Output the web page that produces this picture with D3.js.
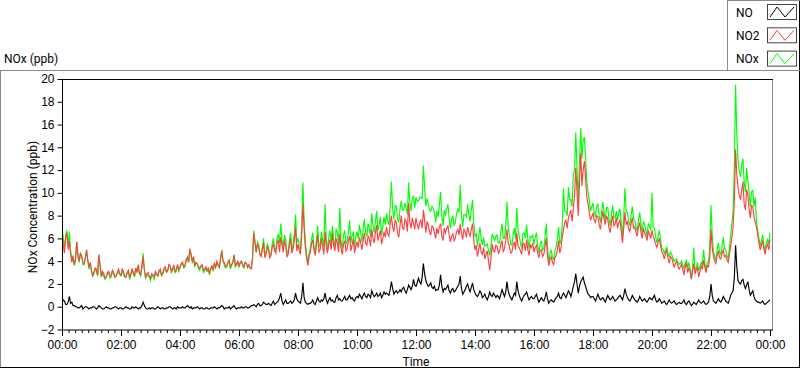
<!DOCTYPE html>
<html>
<head>
<meta charset="utf-8">
<script src="https://cdn.jsdelivr.net/npm/d3@7"></script>
<style>
  body { margin: 0; background: #fff; }
  svg { display: block; font-family: Roboto, 'Liberation Sans', sans-serif; font-size: 12px; }
</style>
</head>
<body>
<svg id="chart" width="800" height="369"></svg>
<script>
// one sample every 2.5 minutes, 00:00 -> 24:00 (one row = one hour)
const sampleMinutes = 2.5;
const seriesNames = ['NO', 'NO2', 'NOx'];
const yTicks = [-2, 0, 2, 4, 6, 8, 10, 12, 14, 16, 18, 20];

const no = [
  0.3, 0.6, 0.5, 0.2, 0.2, 0.4, 0.9, 0.3, 0.4, 0.1, 0.1, 0.0, 0.0, -0.1, -0.1, 0.0, 0.1, -0.2, -0.1, 0.0, 0.0, -0.1, -0.2, -0.1,
  -0.1, 0.0, 0.0, -0.1, -0.2, -0.1, 0.1, 0.0, -0.1, -0.2, -0.2, -0.1, 0.0, -0.1, -0.1, -0.2, -0.2, -0.1, -0.1, 0.0, 0.0, -0.1, -0.2, -0.1,
  -0.1, -0.2, -0.2, -0.1, 0.0, -0.1, -0.1, -0.2, -0.2, 0.0, -0.1, -0.1, 0.0, -0.1, -0.2, -0.1, -0.1, 0.1, 0.4, 0.1, -0.1, -0.2, -0.2, -0.1,
  -0.2, -0.1, -0.1, -0.2, -0.2, -0.1, 0.0, -0.1, -0.2, -0.1, -0.1, -0.2, -0.2, -0.1, -0.1, 0.0, 0.0, -0.1, -0.2, -0.1, -0.1, -0.2, 0.0, -0.1,
  -0.1, -0.1, 0.0, -0.1, -0.1, 0.0, 0.1, 0.0, -0.1, 0.0, -0.2, -0.1, -0.1, -0.1, 0.0, -0.1, -0.2, -0.1, -0.1, -0.2, -0.2, -0.1, -0.1, -0.2,
  -0.2, -0.1, -0.1, -0.1, 0.0, -0.1, -0.2, -0.1, -0.1, 0.0, 0.1, 0.0, -0.2, -0.1, -0.1, -0.1, 0.0, -0.2, -0.1, 0.0, 0.1, -0.1, -0.2, -0.1,
  -0.1, -0.1, 0.0, -0.1, -0.1, 0.0, 0.0, -0.1, -0.1, 0.0, 0.1, 0.1, 0.2, 0.1, 0.0, 0.2, 0.3, 0.1, 0.1, 0.2, 0.4, 0.3, 0.2, 0.2,
  0.3, 0.2, 0.1, 0.3, 0.5, 0.2, 0.3, 0.4, 0.5, 0.8, 1.2, 0.5, 0.2, 0.4, 0.6, 0.3, 0.3, 0.4, 0.5, 0.3, 0.4, 0.6, 1.2, 0.7,
  0.5, 0.4, 0.3, 0.9, 2.1, 0.8, 0.4, 0.3, 0.2, 0.3, 0.3, 0.4, 0.6, 0.3, 0.2, 0.5, 0.8, 0.5, 0.4, 0.6, 0.5, 0.7, 1.2, 0.6,
  0.3, 0.6, 0.8, 0.5, 0.6, 0.4, 0.4, 0.8, 1.0, 0.6, 0.7, 0.5, 0.5, 0.7, 0.9, 0.6, 0.6, 0.8, 1.0, 0.7, 0.8, 0.6, 0.5, 0.8,
  0.9, 0.8, 1.1, 0.9, 0.7, 1.0, 1.2, 0.9, 0.8, 1.1, 1.0, 0.8, 1.4, 1.1, 0.9, 1.0, 1.2, 0.9, 1.0, 1.2, 0.8, 1.0, 1.3, 1.1,
  1.2, 1.1, 1.0, 1.5, 2.2, 1.6, 1.1, 1.3, 1.4, 1.2, 1.3, 1.5, 1.3, 1.6, 1.7, 1.4, 1.2, 1.5, 1.9, 1.7, 1.5, 1.8, 2.4, 1.9,
  1.8, 2.1, 2.5, 2.2, 2.0, 2.6, 3.8, 2.9, 2.3, 2.0, 1.8, 1.9, 2.1, 1.7, 1.6, 1.8, 1.4, 1.5, 1.5, 1.9, 2.8, 1.8, 1.3, 1.6,
  1.5, 1.7, 1.9, 1.4, 1.2, 1.5, 1.6, 1.3, 1.4, 1.6, 1.8, 2.0, 2.7, 1.6, 1.1, 1.3, 1.5, 1.8, 2.0, 1.6, 1.3, 1.7, 2.1, 1.5,
  1.2, 1.0, 0.9, 1.1, 1.4, 1.2, 0.8, 0.9, 1.1, 0.8, 0.6, 0.9, 1.3, 1.0, 0.9, 1.2, 1.0, 0.8, 1.0, 0.9, 0.7, 1.1, 1.5, 1.2,
  0.9, 1.3, 2.2, 1.4, 1.0, 0.8, 0.6, 0.9, 1.2, 1.0, 2.2, 1.4, 1.0, 0.7, 0.5, 0.8, 1.0, 1.1, 1.3, 0.9, 0.6, 0.8, 0.9, 0.7,
  0.7, 0.9, 1.1, 0.7, 0.4, 0.6, 0.8, 0.6, 0.5, 0.8, 1.3, 0.7, 0.3, 0.5, 0.6, 0.5, 0.4, 0.6, 0.8, 0.9, 1.2, 0.8, 0.7, 1.0,
  1.2, 1.0, 0.8, 1.1, 1.4, 1.2, 0.9, 1.3, 1.8, 2.2, 2.9, 2.0, 1.2, 1.8, 2.2, 2.4, 2.6, 2.1, 1.8, 1.4, 1.1, 1.0, 0.8, 0.9,
  0.9, 0.7, 0.5, 0.8, 1.1, 0.8, 0.6, 0.7, 0.8, 0.6, 0.4, 0.7, 1.0, 0.8, 0.6, 0.7, 0.9, 0.7, 0.5, 0.6, 0.7, 0.9, 1.0, 0.8,
  0.6, 1.0, 1.6, 1.1, 0.8, 0.6, 0.5, 0.7, 1.0, 0.8, 0.6, 0.5, 0.4, 0.6, 0.9, 0.7, 0.5, 0.6, 0.7, 0.5, 0.4, 0.6, 0.8, 0.7,
  0.6, 0.8, 1.0, 0.6, 0.4, 0.5, 0.7, 0.5, 0.3, 0.4, 0.5, 0.3, 0.2, 0.4, 0.6, 0.4, 0.3, 0.4, 0.5, 0.3, 0.2, 0.3, 0.4, 0.3,
  0.3, 0.4, 0.6, 0.3, 0.2, 0.4, 0.5, 0.3, 0.1, 0.2, 0.4, 0.3, 0.2, 0.4, 0.6, 0.4, 0.3, 0.4, 0.5, 0.3, 0.2, 0.3, 0.4, 0.9,
  2.0, 1.0, 0.5, 0.4, 0.3, 0.5, 0.7, 0.5, 0.4, 0.6, 0.9, 0.7, 0.5, 0.4, 0.3, 0.6, 1.0, 1.2, 1.4, 2.6, 5.4, 3.5, 2.3, 2.1,
  2.0, 2.3, 2.4, 1.9, 1.6, 1.9, 2.2, 1.5, 1.0, 1.2, 1.4, 0.9, 0.6, 0.5, 0.4, 0.4, 0.3, 0.4, 0.5, 0.3, 0.2, 0.3, 0.4, 0.5,
  0.6
];

const no2 = [
  6.8, 5.4, 4.7, 6.1, 6.5, 5.0, 5.8, 4.6, 3.9, 4.4, 3.7, 4.2, 5.7, 4.5, 4.0, 4.7, 4.4, 3.9, 3.8, 4.3, 5.0, 4.1, 3.5, 3.9,
  3.2, 2.7, 3.0, 3.4, 3.3, 2.8, 4.5, 3.6, 2.7, 3.1, 2.9, 2.5, 2.6, 3.0, 3.1, 2.7, 2.8, 3.2, 3.0, 2.6, 2.7, 3.0, 3.3, 2.9,
  2.8, 3.3, 3.1, 2.7, 2.6, 3.0, 3.2, 2.6, 2.9, 3.3, 3.0, 2.7, 3.4, 3.1, 3.7, 3.0, 2.8, 3.5, 4.4, 3.2, 2.6, 2.9, 3.0, 2.7,
  2.5, 2.9, 2.8, 2.6, 3.1, 2.9, 2.7, 3.2, 3.3, 2.8, 3.0, 3.4, 3.5, 3.1, 3.2, 3.7, 3.6, 3.1, 3.4, 3.6, 3.1, 3.3, 3.7, 3.2,
  3.5, 3.8, 3.9, 3.5, 3.6, 4.1, 4.3, 3.9, 5.1, 4.6, 4.0, 4.4, 3.6, 3.9, 3.8, 3.5, 3.4, 3.6, 3.7, 3.2, 3.3, 3.5, 3.2, 3.4,
  3.0, 3.4, 3.6, 3.2, 3.8, 3.5, 4.0, 3.7, 3.5, 4.2, 4.9, 4.0, 3.9, 3.5, 3.6, 3.9, 4.1, 3.5, 3.7, 3.9, 4.5, 3.6, 3.8, 4.0,
  3.6, 3.9, 4.0, 3.7, 3.5, 3.9, 3.8, 3.5, 3.7, 3.4, 3.3, 4.2, 6.5, 5.6, 4.8, 5.5, 5.2, 4.6, 4.4, 5.0, 5.6, 4.3, 4.6, 5.3,
  5.0, 4.3, 4.5, 5.2, 5.5, 4.9, 4.7, 5.6, 5.9, 4.8, 6.1, 5.4, 4.8, 5.9, 5.3, 4.4, 4.6, 5.4, 6.0, 4.7, 5.1, 5.8, 7.0, 4.9,
  5.5, 4.9, 4.6, 6.2, 9.0, 6.8, 5.2, 4.3, 3.6, 4.4, 4.8, 5.5, 5.9, 5.0, 4.5, 5.4, 6.3, 4.8, 5.0, 6.0, 5.4, 4.6, 6.6, 5.3,
  4.7, 5.5, 5.9, 5.0, 6.5, 5.4, 4.9, 6.0, 5.6, 4.8, 6.4, 5.2, 4.6, 5.5, 5.8, 4.9, 5.1, 5.8, 6.2, 4.9, 5.4, 6.0, 4.7, 5.3,
  5.7, 5.2, 6.1, 5.6, 5.0, 5.8, 6.5, 5.6, 5.4, 6.2, 6.0, 5.3, 6.8, 6.0, 5.6, 6.5, 7.2, 5.8, 6.2, 6.7, 5.5, 6.0, 6.6, 6.1,
  7.0, 6.4, 6.2, 7.3, 8.0, 7.0, 6.6, 7.6, 7.4, 6.5, 6.1, 7.1, 8.0, 6.9, 6.8, 7.7, 7.5, 6.6, 9.1, 7.4, 6.9, 7.8, 7.3, 6.8,
  7.8, 7.2, 6.8, 7.4, 7.6, 6.9, 8.5, 7.6, 6.5, 7.5, 7.2, 6.6, 6.3, 7.1, 7.0, 6.5, 6.0, 6.9, 6.4, 7.0, 7.3, 6.2, 5.8, 6.9,
  6.5, 6.9, 7.1, 6.3, 5.7, 6.2, 6.4, 5.8, 6.0, 6.6, 6.8, 6.3, 7.3, 6.4, 5.9, 6.8, 6.6, 6.1, 7.0, 6.5, 6.2, 6.8, 7.3, 5.8,
  5.0, 5.4, 4.4, 5.0, 5.6, 4.8, 4.6, 5.2, 4.2, 4.6, 4.9, 4.0, 3.2, 4.3, 5.5, 4.9, 4.8, 5.4, 5.3, 4.7, 4.9, 5.5, 5.8, 4.8,
  5.1, 5.8, 6.8, 5.6, 5.3, 4.7, 4.8, 5.4, 5.7, 5.0, 6.5, 5.3, 5.2, 4.9, 4.6, 5.6, 5.5, 4.9, 5.9, 5.0, 4.5, 5.4, 5.2, 5.6,
  4.8, 5.2, 5.4, 4.7, 4.3, 4.9, 5.0, 4.4, 4.6, 5.3, 6.0, 4.5, 3.6, 4.1, 4.4, 3.9, 3.7, 4.3, 4.5, 5.0, 5.8, 4.7, 5.2, 6.1,
  6.8, 7.4, 7.6, 6.9, 7.8, 8.2, 8.5, 7.5, 8.6, 9.8, 12.2, 10.1, 8.0, 11.0, 13.5, 10.6, 12.0, 12.8, 11.2, 9.6, 9.0, 8.3, 7.6, 7.9,
  8.2, 7.6, 7.4, 8.0, 7.9, 7.2, 6.8, 7.6, 8.4, 7.7, 7.2, 8.0, 7.7, 6.9, 6.5, 7.4, 8.0, 7.1, 7.3, 7.8, 6.9, 7.4, 7.6, 6.6,
  5.6, 6.9, 8.3, 7.2, 7.5, 6.8, 6.6, 7.3, 7.8, 6.9, 7.0, 6.5, 6.2, 7.0, 7.4, 6.6, 6.0, 6.9, 6.5, 6.2, 5.8, 6.7, 6.3, 6.0,
  6.7, 6.2, 5.9, 5.5, 5.2, 5.7, 6.0, 5.3, 4.8, 4.6, 4.2, 4.7, 5.0, 4.3, 3.8, 4.4, 4.3, 3.9, 3.5, 3.8, 4.0, 3.6, 3.3, 3.5,
  3.7, 3.3, 2.8, 3.5, 3.9, 3.0, 3.4, 3.1, 2.4, 3.2, 3.8, 2.9, 3.2, 3.5, 2.6, 3.1, 3.6, 3.3, 4.1, 3.5, 3.0, 3.6, 3.5, 4.4,
  6.8, 5.2, 4.4, 4.0, 3.8, 4.5, 4.9, 4.3, 4.2, 4.7, 5.0, 4.4, 4.5, 4.1, 3.9, 4.6, 5.3, 6.1, 7.0, 9.5, 13.8, 11.6, 10.5, 9.8,
  9.4, 10.2, 11.0, 9.0, 8.5, 10.3, 9.8, 8.6, 7.8, 8.9, 8.8, 7.9, 7.4, 7.0, 6.3, 5.6, 5.0, 5.4, 5.8, 5.1, 4.6, 5.3, 5.5, 5.0,
  5.9
];

const nox = [
  7.0, 6.0, 5.2, 6.3, 6.7, 5.4, 6.6, 4.9, 4.2, 4.5, 3.6, 4.2, 5.7, 4.4, 3.9, 4.7, 4.5, 3.7, 3.7, 4.3, 5.0, 4.0, 3.3, 3.8,
  3.1, 2.7, 3.0, 3.3, 3.1, 2.7, 4.6, 3.6, 2.6, 2.9, 2.7, 2.4, 2.6, 2.9, 3.0, 2.5, 2.6, 3.1, 2.9, 2.6, 2.7, 2.9, 3.1, 2.8,
  2.7, 3.1, 2.9, 2.6, 2.6, 2.9, 3.1, 2.4, 2.7, 3.3, 2.9, 2.6, 3.4, 3.0, 3.5, 2.9, 2.7, 3.6, 4.7, 3.3, 2.5, 2.7, 2.8, 2.6,
  2.3, 2.8, 2.7, 2.4, 2.9, 2.8, 2.7, 3.1, 3.1, 2.7, 2.9, 3.2, 3.3, 3.0, 3.1, 3.7, 3.6, 3.0, 3.2, 3.5, 3.0, 3.1, 3.7, 3.1,
  3.4, 3.7, 3.9, 3.4, 3.5, 4.1, 4.4, 3.9, 5.0, 4.6, 3.8, 4.3, 3.5, 3.8, 3.8, 3.4, 3.2, 3.5, 3.6, 3.0, 3.1, 3.4, 3.1, 3.2,
  2.8, 3.3, 3.5, 3.1, 3.8, 3.4, 3.8, 3.6, 3.4, 4.2, 5.0, 4.0, 3.7, 3.4, 3.5, 3.8, 4.1, 3.3, 3.6, 3.9, 4.6, 3.5, 3.6, 3.9,
  3.5, 3.8, 4.0, 3.6, 3.4, 3.9, 3.8, 3.4, 3.6, 3.4, 3.4, 4.3, 6.7, 5.7, 4.8, 5.7, 5.5, 4.7, 4.5, 5.2, 6.0, 4.6, 4.8, 5.5,
  5.3, 4.5, 4.6, 5.5, 6.0, 5.1, 5.0, 6.0, 6.4, 5.6, 7.3, 5.9, 5.0, 6.3, 5.9, 4.7, 4.9, 5.8, 6.5, 5.0, 5.5, 6.4, 8.1, 5.6,
  6.0, 5.3, 4.9, 7.1, 10.9, 7.6, 5.6, 4.6, 3.8, 4.7, 5.1, 5.9, 6.5, 5.3, 4.7, 5.9, 7.1, 5.3, 5.4, 6.6, 5.9, 5.3, 9.0, 5.9,
  5.0, 6.1, 6.7, 5.5, 7.1, 5.8, 5.3, 6.8, 6.6, 5.4, 8.7, 5.7, 5.1, 6.2, 6.7, 5.5, 5.7, 6.6, 7.6, 5.6, 6.2, 6.6, 5.2, 6.1,
  6.6, 6.0, 7.2, 6.5, 5.7, 6.8, 7.7, 6.5, 6.2, 7.3, 7.0, 6.1, 8.2, 7.1, 6.5, 7.5, 8.4, 6.7, 7.2, 7.9, 6.3, 7.0, 7.9, 7.2,
  8.2, 7.5, 7.2, 8.8, 11.0, 8.6, 7.7, 8.9, 8.8, 7.7, 7.4, 8.6, 9.3, 8.5, 8.5, 9.1, 8.7, 8.1, 10.9, 9.1, 8.4, 9.6, 9.7, 8.7,
  9.6, 9.3, 9.3, 9.6, 9.6, 9.5, 12.4, 10.5, 8.8, 9.5, 9.0, 8.5, 8.4, 8.8, 8.6, 8.3, 7.4, 8.4, 7.9, 8.9, 10.1, 8.0, 7.1, 8.5,
  8.0, 8.6, 9.0, 7.7, 6.9, 7.7, 8.0, 7.1, 7.4, 8.2, 8.6, 8.3, 10.7, 8.0, 7.0, 8.1, 8.1, 7.9, 9.0, 8.1, 7.5, 8.5, 9.4, 7.3,
  6.2, 6.4, 5.3, 6.1, 7.0, 6.0, 5.4, 6.1, 5.3, 5.4, 5.5, 4.9, 4.5, 5.3, 6.4, 6.1, 5.8, 6.2, 6.3, 5.6, 5.6, 6.6, 7.3, 6.0,
  6.0, 7.1, 9.2, 7.0, 6.3, 5.5, 5.4, 6.3, 6.9, 6.0, 8.7, 6.7, 6.2, 5.6, 5.1, 6.4, 6.5, 6.0, 7.2, 5.9, 5.1, 6.2, 6.1, 6.3,
  5.5, 6.1, 6.5, 5.4, 4.7, 5.5, 5.8, 5.0, 5.1, 6.1, 7.3, 5.2, 3.9, 4.6, 5.0, 4.4, 4.1, 4.9, 5.3, 5.9, 7.0, 5.5, 5.9, 7.1,
  10.4, 8.4, 8.4, 8.0, 10.5, 9.4, 9.4, 8.8, 11.6, 12.0, 15.3, 12.1, 9.2, 12.8, 15.7, 13.0, 14.6, 14.9, 13.0, 11.0, 10.1, 9.3, 8.4, 8.8,
  9.1, 8.3, 7.9, 8.8, 9.0, 8.0, 7.4, 8.3, 9.2, 8.3, 7.6, 8.7, 8.7, 7.7, 7.1, 8.1, 8.9, 7.8, 7.8, 8.4, 7.6, 8.3, 8.6, 7.4,
  6.2, 7.9, 10.4, 8.3, 8.3, 7.4, 7.1, 8.0, 8.8, 7.7, 7.6, 7.0, 6.6, 7.6, 8.3, 7.3, 6.5, 7.5, 7.2, 6.7, 6.2, 7.3, 7.1, 6.7,
  10.0, 7.0, 6.9, 6.1, 5.6, 6.2, 6.7, 5.8, 5.1, 5.0, 4.7, 5.0, 5.2, 4.7, 4.4, 4.8, 4.6, 4.3, 4.0, 4.1, 4.2, 3.9, 3.7, 3.8,
  4.0, 3.7, 3.4, 3.8, 4.1, 3.4, 3.9, 3.4, 2.5, 3.4, 5.2, 3.2, 3.4, 3.9, 3.2, 3.5, 3.9, 3.7, 5.0, 3.8, 3.2, 3.9, 3.9, 5.3,
  8.9, 6.2, 4.9, 4.4, 4.1, 5.0, 5.6, 4.8, 4.6, 5.3, 6.1, 5.1, 5.0, 4.5, 4.2, 5.2, 6.3, 7.3, 8.4, 12.1, 19.5, 15.1, 12.8, 11.9,
  11.4, 12.5, 13.0, 10.9, 10.1, 12.2, 11.0, 10.1, 8.8, 10.1, 10.2, 8.8, 9.6, 7.5, 6.7, 6.0, 5.3, 5.8, 6.3, 5.4, 4.8, 5.6, 5.9, 5.5,
  6.5
];

const seriesColors = ['#000000', '#ff4040', '#00ff00'];
const seriesData = [no, no2, nox];

const svg = d3.select('#chart');

const plot = { left: 62, right: 770, top: 79, bottom: 329.5 };
const day0 = new Date(2020, 0, 1, 0, 0);
const day1 = new Date(2020, 0, 2, 0, 0);
const timeOf = i => new Date(day0.getTime() + i * sampleMinutes * 60000);

const x = d3.scaleTime().domain([day0, day1]).range([plot.left, plot.right]);
const y = d3.scaleLinear().domain([-2, 20]).range([plot.bottom, plot.top]);

// outer panel
svg.append('line').attr('x1', 0).attr('x2', 728).attr('y1', 70.5).attr('y2', 70.5).attr('stroke', '#8a8a8a');
svg.append('line').attr('x1', 0.5).attr('x2', 0.5).attr('y1', 70).attr('y2', 368).attr('stroke', '#8a8a8a');
svg.append('line').attr('x1', 0).attr('x2', 800).attr('y1', 367.5).attr('y2', 367.5).attr('stroke', '#000');
svg.append('line').attr('x1', 799.5).attr('x2', 799.5).attr('y1', 0).attr('y2', 368).attr('stroke', '#000');

svg.append('text').attr('x', 4).attr('y', 63).text('NOx (ppb)');

// data
svg.append('clipPath').attr('id', 'clip')
  .append('rect')
  .attr('x', plot.left + 1).attr('y', plot.top + 1)
  .attr('width', 772 - plot.left - 1).attr('height', 330 - plot.top - 1);

const line = d3.line()
  .x((d, i) => x(timeOf(i)))
  .y(d => y(d));

const drawOrder = [2, 1, 0];
svg.append('g').attr('clip-path', 'url(#clip)')
  .selectAll('path')
  .data(drawOrder)
  .enter().append('path')
  .attr('d', k => line(seriesData[k]))
  .attr('fill', 'none')
  .attr('stroke', k => seriesColors[k])
  .attr('stroke-width', 1.15)
  .attr('stroke-linejoin', 'miter');

// plot frame
svg.append('line').attr('x1', 772.5).attr('x2', 772.5).attr('y1', 79).attr('y2', 330).attr('stroke', '#8a8a8a');
svg.append('line').attr('x1', 62).attr('x2', 773).attr('y1', 79.5).attr('y2', 79.5).attr('stroke', '#000');
svg.append('line').attr('x1', 62).attr('x2', 773).attr('y1', 330).attr('y2', 330).attr('stroke', '#000');
svg.append('line').attr('x1', 62.5).attr('x2', 62.5).attr('y1', 79).attr('y2', 330.5).attr('stroke', '#000');

// y axis
const yAxisG = svg.append('g')
  .attr('transform', 'translate(62.5,0)')
  .call(d3.axisLeft(y).tickValues(yTicks).tickSize(5).tickPadding(3));
yAxisG.select('.domain').remove();
yAxisG.selectAll('text').attr('font-size', 12).attr('font-family', null).attr('fill', '#000');
yAxisG.selectAll('.tick line').attr('stroke', '#000');

// x axis, major every 2 hours and 9 divisions between
const majorTicks = x.ticks(d3.timeHour.every(2));
const minorTicks = [];
majorTicks.slice(0, -1).forEach((t, i) => {
  const next = majorTicks[i + 1];
  for (let k = 1; k < 9; k++) {
    minorTicks.push(new Date(t.getTime() + (next - t) * k / 9));
  }
});

const xAxisG = svg.append('g')
  .attr('transform', 'translate(0,330)')
  .call(d3.axisBottom(x).tickValues(majorTicks).tickSize(6).tickPadding(4).tickFormat(d3.timeFormat('%H:%M')));
xAxisG.select('.domain').remove();
xAxisG.selectAll('text').attr('font-size', 12).attr('font-family', null).attr('fill', '#000');

const xMinorG = svg.append('g')
  .attr('transform', 'translate(0,330)')
  .call(d3.axisBottom(x).tickValues(minorTicks).tickSize(3).tickFormat(''));
xMinorG.select('.domain').remove();

// axis titles
svg.append('text')
  .attr('transform', 'translate(37,207) rotate(-90)')
  .attr('text-anchor', 'middle')
  .text('NOx Concentration (ppb)');

svg.append('text')
  .attr('x', 416).attr('y', 366)
  .attr('text-anchor', 'middle')
  .text('Time');

// legend
const legend = svg.append('g');
legend.append('line').attr('x1', 727.5).attr('x2', 727.5).attr('y1', 0).attr('y2', 71).attr('stroke', '#8a8a8a');
legend.append('line').attr('x1', 727.5).attr('x2', 800).attr('y1', 0.5).attr('y2', 0.5).attr('stroke', '#8a8a8a');
legend.append('line').attr('x1', 727.5).attr('x2', 800).attr('y1', 70.5).attr('y2', 70.5).attr('stroke', '#8a8a8a');

const item = legend.selectAll('g.item')
  .data(seriesNames)
  .enter().append('g')
  .attr('class', 'item')
  .attr('transform', (d, i) => `translate(0,${i * 23.3})`);

item.append('text')
  .attr('x', 736).attr('y', 16.5)
  .text(d => d);

item.append('rect')
  .attr('x', 767.5).attr('y', 4.5)
  .attr('width', 29).attr('height', 15)
  .attr('fill', '#fff')
  .attr('stroke', '#444');

const zig = d3.line();
item.append('path')
  .attr('d', zig([[770, 17], [777, 7], [785, 17], [794, 7]]))
  .attr('fill', 'none')
  .attr('stroke', (d, i) => seriesColors[i])
  .attr('stroke-width', 1);
</script>
</body>
</html>
